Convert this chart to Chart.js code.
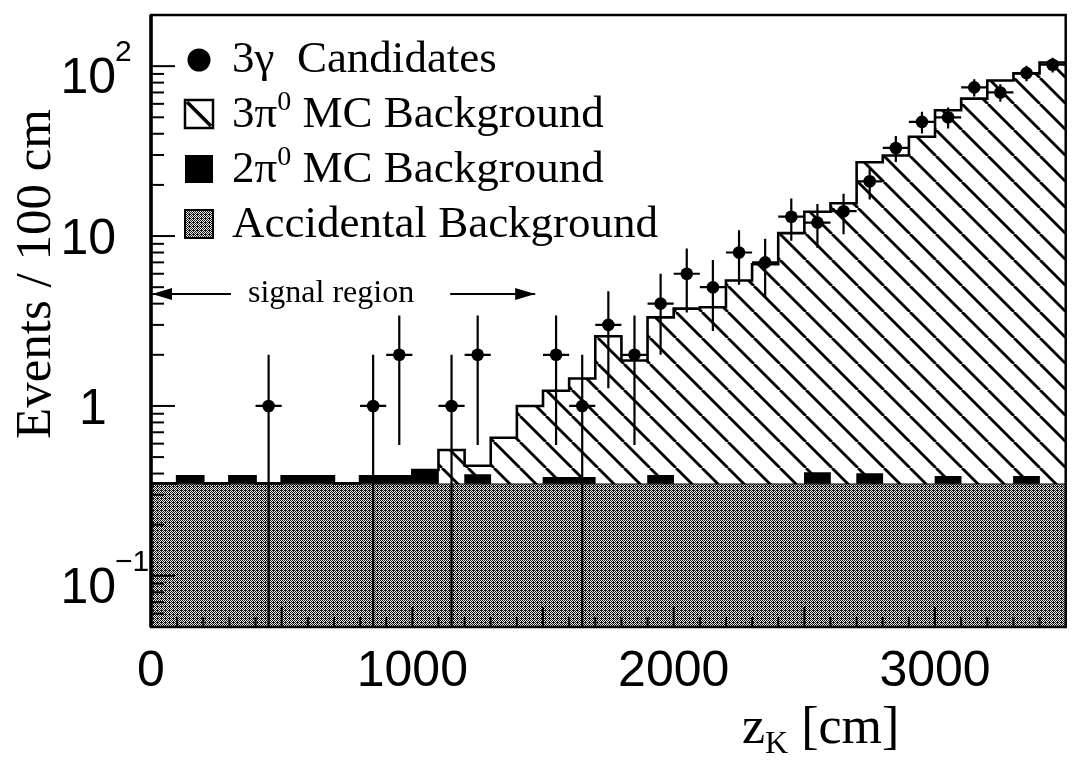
<!DOCTYPE html>
<html><head><meta charset="utf-8">
<script src="https://cdn.jsdelivr.net/npm/chart.js@4/dist/chart.umd.min.js"></script>
<style>html,body{margin:0;padding:0;background:#fff;}canvas{display:block;}</style>
</head><body>
<canvas id="c" width="1072" height="760"></canvas>
<script>
// ---- histogram bins (z_K, cm) ----
const zLow  = [0,100,200,300,400,500,600,700,800,900,1000,1100,1200,1300,1400,1500,1600,1700,1800,1900,2000,2100,2200,2300,2400,2500,2600,2700,2800,2900,3000,3100,3200,3300,3400];
const zHigh = [100,200,300,400,500,600,700,800,900,1000,1100,1200,1300,1400,1500,1600,1700,1800,1900,2000,2100,2200,2300,2400,2500,2600,2700,2800,2900,3000,3100,3200,3300,3400,3500];
// ---- series (events / 100 cm) ----
const accidental = [0.35,0.35,0.35,0.35,0.35,0.35,0.35,0.35,0.35,0.35,0.35,0.35,0.35,0.35,0.35,0.35,0.35,0.35,0.35,0.35,0.35,0.35,0.35,0.35,0.35,0.35,0.35,0.35,0.35,0.35,0.35,0.35,0.35,0.35,0.35];
const twoPi0 = [0,0.035,0,0.035,0,0.035,0.035,0,0.035,0.035,0.07,0,0.045,0,0,0.03,0.03,0,0,0.04,0,0,0,0,0,0.055,0,0.05,0,0,0.035,0,0,0.035,0];
const threePi0 = [0,0,0,0,0,0,0,0,0,0,0,0.2,0.05,0.3,0.65,0.85,1.07,2.22,1.5,2.93,3.39,3.46,5.12,6.48,10.05,13.5,15.25,26.8,29.45,38.05,54.6,64.05,81.95,90.3,104.65];
const candidates = [0,0,0,0,1,0,0,0,1,2,0,1,2,0,0,2,1,3,2,4,6,5,8,7,13,12,14,21,33,47,50,75,70,91,102];
const candErr = [0,0,0,0,1,0,0,0,1,1.41,0,1,1.41,0,0,1.41,1,1.73,1.41,2,2.45,2.24,2.83,2.65,3.61,3.46,3.74,4.58,5.74,6.86,7.07,8.66,8.37,9.54,10.1];
// ---- tick labels ----
const xTickValues = [0,1000,2000,3000];
const xTickLabels = ['0','1000','2000','3000'];
const yTickValues = [0.1,1,10,100];
const yTickBase = ['10','1','10','10'];
const yTickSup  = ['\u22121','','','2'];
// ---- annotation ----
const signalLabel = 'signal region';
const signalFrom = 0, signalTo = 1470, signalLevel = 4.56;

const SERIF = '"Liberation Serif", "Times New Roman", serif';
const SANS = '"Liberation Sans", Arial, sans-serif';

const canvas = document.getElementById('c');
const ctx0 = canvas.getContext('2d');

function makeHatch() {
  const s = 26, c = document.createElement('canvas');
  c.width = s; c.height = s;
  const g = c.getContext('2d');
  g.fillStyle = '#fff'; g.fillRect(0, 0, s, s);
  g.strokeStyle = '#000'; g.lineWidth = 2.8;
  for (const k of [-1, 0, 1]) { g.beginPath(); g.moveTo(k * s, 0); g.lineTo(k * s + s, s); g.stroke(); }
  return ctx0.createPattern(c, 'repeat');
}
function makeDither() {
  const c = document.createElement('canvas');
  c.width = 4; c.height = 4;
  const g = c.getContext('2d');
  g.fillStyle = '#e8e8e8'; g.fillRect(0, 0, 4, 4);
  g.fillStyle = '#151515';
  for (let yy = 0; yy < 4; yy++) for (let xx = 0; xx < 4; xx++) if ((xx + yy) % 2 === 0) g.fillRect(xx, yy, 1, 1);
  g.fillRect(1, 2, 1, 1);
  return ctx0.createPattern(c, 'repeat');
}
const hatch = makeHatch();
const dither = makeDither();

const total = zLow.map((_, i) => accidental[i] + twoPi0[i] + threePi0[i]);
const stepPoints = arr => zLow.map((z, i) => ({x: z, y: arr[i]})).concat([{x: zHigh[zHigh.length - 1], y: arr[arr.length - 1]}]);

const datasets = [
  { label: 'Accidental Background', type: 'line', data: stepPoints(accidental), stepped: 'before',
    fill: 'start', backgroundColor: dither, borderColor: '#000', borderWidth: 2, pointRadius: 0, order: 3 },
  { label: '3\u03c0\u2070 MC Background', type: 'line', data: stepPoints(total), stepped: 'before',
    fill: '-1', backgroundColor: hatch, borderColor: '#000', borderWidth: 2.6, pointRadius: 0, order: 2 },
  { label: '2\u03c0\u2070 MC Background', type: 'bar',
    data: zLow.map((z, i) => ({x: (z + zHigh[i]) / 2, y: twoPi0[i] > 0 ? [accidental[i], accidental[i] + twoPi0[i]] : null})),
    backgroundColor: '#000', borderWidth: 0, barPercentage: 1, categoryPercentage: 1, order: 1 },
  { label: '3\u03b3  Candidates', type: 'scatter',
    data: zLow.map((z, i) => ({x: (z + zHigh[i]) / 2, y: candidates[i] > 0 ? candidates[i] : null})),
    pointRadius: 6.3, pointBackgroundColor: '#000', pointBorderWidth: 0, backgroundColor: '#000', fill: false, showLine: false, order: 0 }
];

function richText(ctx, x, y, parts) {
  for (const p of parts) {
    ctx.font = p.size + 'px ' + SERIF;
    ctx.fillText(p.t, x, y + (p.dy || 0));
    x += ctx.measureText(p.t).width;
  }
  return x;
}
function labelParts(label, size) {
  const idx = label.indexOf('\u2070');
  if (idx < 0) return [{t: label, size}];
  return [{t: label.slice(0, idx), size}, {t: '0', size: Math.round(size * 0.62), dy: -Math.round(size * 0.38)}, {t: label.slice(idx + 1), size}];
}
function arrowHead(ctx, tipX, y, dir) {
  ctx.beginPath(); ctx.moveTo(tipX, y); ctx.lineTo(tipX - dir * 20, y - 6); ctx.lineTo(tipX - dir * 20, y + 6); ctx.closePath(); ctx.fill();
}

const decor = {
  id: 'decor',
  afterDatasetsDraw(chart) {
    const {ctx, chartArea: a, scales: {x, y}} = chart;
    ctx.save();
    // keep side margins clean
    ctx.fillStyle = '#fff';
    ctx.fillRect(0, 0, a.left - 2, a.bottom + 3);
    ctx.fillRect(a.right + 2, 0, chart.width - a.right, chart.height);
    ctx.strokeStyle = '#000'; ctx.fillStyle = '#000'; ctx.lineWidth = 2.2;
    // error bars
    candidates.forEach((n, i) => {
      if (!n) return;
      const cx = x.getPixelForValue((zLow[i] + zHigh[i]) / 2);
      const cy = y.getPixelForValue(n);
      const lo = n - candErr[i];
      const yLo = lo > 0 ? y.getPixelForValue(lo) : a.bottom;
      const yHi = y.getPixelForValue(n + candErr[i]);
      ctx.beginPath();
      ctx.moveTo(cx, yHi); ctx.lineTo(cx, yLo);
      ctx.moveTo(x.getPixelForValue(zLow[i]), cy); ctx.lineTo(x.getPixelForValue(zHigh[i]), cy);
      ctx.stroke();
    });
    // inward ticks, left axis
    ctx.lineWidth = 2;
    for (let e = -2; e <= 2; e++) {
      for (let m = 1; m <= 9; m++) {
        const v = m * Math.pow(10, e);
        if (v <= y.min || v >= y.max) continue;
        const py = y.getPixelForValue(v);
        const len = m === 1 ? 24 : 13;
        ctx.beginPath(); ctx.moveTo(a.left, py); ctx.lineTo(a.left + len, py); ctx.stroke();
      }
    }
    // inward ticks, bottom axis
    for (let v = 100; v < x.max; v += 100) {
      const px = x.getPixelForValue(v);
      const len = v % 500 === 0 ? 20 : 10;
      ctx.beginPath(); ctx.moveTo(px, a.bottom); ctx.lineTo(px, a.bottom - len); ctx.stroke();
    }
    // frame
    ctx.lineWidth = 2.5;
    ctx.strokeRect(a.left, a.top, a.right - a.left, a.bottom - a.top);
    ctx.lineWidth = 3.5;
    ctx.beginPath(); ctx.moveTo(a.left, a.top); ctx.lineTo(a.left, a.bottom); ctx.stroke();
    ctx.restore();
  },
  afterDraw(chart) {
    const {ctx, chartArea: a, scales: {x, y}} = chart;
    ctx.save();
    ctx.fillStyle = '#000'; ctx.strokeStyle = '#000';
    ctx.textBaseline = 'alphabetic';
    // y tick labels
    yTickValues.forEach((v, i) => {
      const py = y.getPixelForValue(v);
      const base = yTickBase[i], sup = yTickSup[i];
      ctx.font = '50px ' + SANS;
      if (sup) {
        ctx.textAlign = 'right'; ctx.fillText(base, 116, py + 27);
        ctx.font = '30px ' + SANS; ctx.textAlign = 'left'; ctx.fillText(sup, 115, py - 5);
      } else if (base.length === 1) {
        ctx.textAlign = 'center'; ctx.fillText(base, 93, py + 18);
      } else {
        ctx.textAlign = 'right'; ctx.fillText(base, 116, py + 18);
      }
    });
    // y title
    ctx.save();
    ctx.translate(50, 274); ctx.rotate(-Math.PI / 2);
    ctx.font = '51px ' + SERIF; ctx.textAlign = 'center';
    ctx.fillText('Events / 100 cm', 0, 0);
    ctx.restore();
    // x title z_K [cm]
    ctx.textAlign = 'left';
    richText(ctx, 742, 743, [{t: 'z', size: 52}, {t: 'K', size: 32, dy: 10}, {t: ' [cm]', size: 52}]);
    // legend
    const ds = chart.data.datasets;
    const rows = [
      {d: ds[3], kind: 'dot'}, {d: ds[1], kind: 'hatch'}, {d: ds[2], kind: 'solid'}, {d: ds[0], kind: 'dither'}
    ];
    const baselines = [72, 127, 182, 237];
    rows.forEach((r, i) => {
      const b = baselines[i];
      const sx = 185, sy = b - 27, s = 28;
      if (r.kind === 'dot') {
        ctx.beginPath(); ctx.arc(199, b - 12, 11.5, 0, Math.PI * 2); ctx.fill();
      } else if (r.kind === 'solid') {
        ctx.fillRect(sx, sy, s, s);
      } else if (r.kind === 'hatch') {
        ctx.fillStyle = '#fff'; ctx.fillRect(sx, sy, s, s); ctx.fillStyle = '#000';
        ctx.lineWidth = 2.5; ctx.strokeRect(sx, sy, s, s);
        ctx.lineWidth = 3.5; ctx.beginPath(); ctx.moveTo(sx + 2, sy + 2); ctx.lineTo(sx + s - 2, sy + s - 2); ctx.stroke();
      } else {
        ctx.fillStyle = dither; ctx.fillRect(sx, sy, s, s); ctx.fillStyle = '#000';
        ctx.lineWidth = 2; ctx.strokeRect(sx, sy, s, s);
      }
      richText(ctx, 232, b, labelParts(r.d.label, 45));
    });
    // signal region annotation
    const ay = y.getPixelForValue(signalLevel);
    const x0 = x.getPixelForValue(signalFrom), x1 = x.getPixelForValue(signalTo);
    ctx.font = '32px ' + SERIF;
    const tw = ctx.measureText(signalLabel).width;
    const leftEnd = x0 + 80, textX = leftEnd + 17, rightStart = textX + tw + 36;
    ctx.lineWidth = 2;
    ctx.beginPath(); ctx.moveTo(x0, ay); ctx.lineTo(leftEnd, ay); ctx.moveTo(rightStart, ay); ctx.lineTo(x1, ay); ctx.stroke();
    arrowHead(ctx, x0 + 1, ay, -1); arrowHead(ctx, x1, ay, 1);
    ctx.textAlign = 'left';
    ctx.fillText(signalLabel, textX, ay + 8);
    ctx.restore();
  }
};

new Chart(canvas, {
  type: 'line',
  data: { datasets },
  options: {
    responsive: false, animation: false, devicePixelRatio: 1,
    layout: { padding: { top: 15, right: 4, left: 0, bottom: 0 } },
    plugins: { legend: { display: false }, tooltip: { enabled: false } },
    scales: {
      x: {
        type: 'linear', min: 0, max: 3500, offset: false,
        grid: { display: false, drawTicks: false }, border: { display: false },
        afterBuildTicks: s => { s.ticks = xTickValues.map(v => ({ value: v })); },
        ticks: { callback: (v, i) => xTickLabels[i], font: { family: SANS, size: 50, lineHeight: 1 }, color: '#000', padding: 20, maxRotation: 0, autoSkip: false },
        afterFit: s => { s.height = 133; }
      },
      y: {
        type: 'logarithmic', min: 0.05, max: 200,
        grid: { display: false, drawTicks: false }, border: { display: false },
        ticks: { display: false },
        afterFit: s => { s.width = 151; }
      }
    }
  },
  plugins: [decor]
});
</script>
</body></html>
